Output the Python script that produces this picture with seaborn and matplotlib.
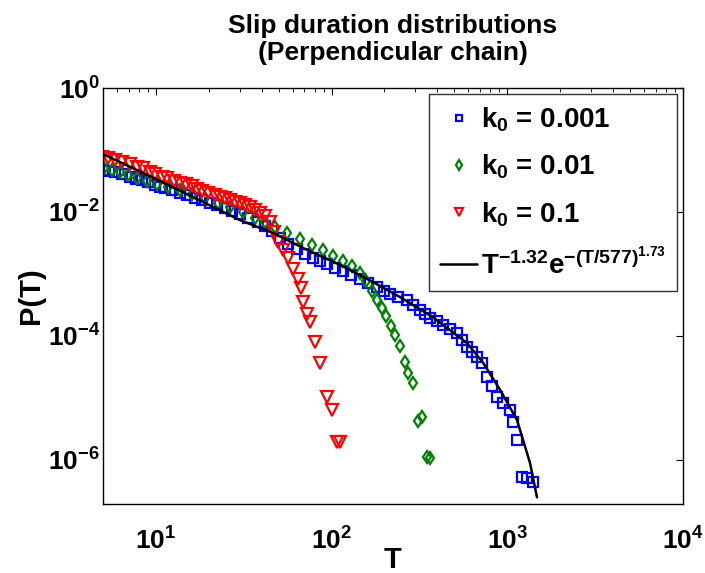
import numpy as np
import pandas as pd
import matplotlib
matplotlib.use("Agg")
import matplotlib.pyplot as plt
import matplotlib.ticker as mticker
import seaborn as sns

# ---------------- data ----------------
T_k001 = [5.00, 5.41, 5.85, 6.41, 7.12, 7.71, 8.34, 9.02, 9.89, 10.5, 11.3, 12.4, 13.7, 15.0,
          16.7, 18.3, 20.3, 22.3, 24.7, 27.1, 30.1, 33.4, 38.1, 41.8, 45.8, 50.8, 56.5, 63.5,
          70.6, 78.3, 85.9, 94.2, 104.5, 116, 129, 145, 161, 181, 199, 215, 239, 269, 291,
          318, 340, 363, 398, 431, 472, 518, 553, 590, 630, 673, 718, 767, 819, 874, 946,
          1037, 1077, 1136, 1213, 1295, 1400]
P_k001 = [0.0476, 0.0458, 0.0442, 0.0410, 0.0367, 0.0340, 0.0328, 0.0305, 0.0272, 0.0253,
          0.0244, 0.0226, 0.0202, 0.0188, 0.0168, 0.0156, 0.0140, 0.0130, 0.0116, 0.0104,
          0.0093, 0.0080, 0.0069, 0.00594, 0.00494, 0.00381, 0.00305, 0.00253, 0.00210,
          0.00181, 0.00162, 0.00145, 0.00125, 0.00112, 9.6e-4, 8.3e-4, 7.2e-4, 6.2e-4,
          5.3e-4, 4.75e-4, 4.25e-4, 3.8e-4, 3.16e-4, 2.62e-4, 2.26e-4, 1.95e-4, 1.75e-4,
          1.5e-4, 1.3e-4, 1.12e-4, 8.6e-5, 6.65e-5, 5.5e-5, 4.6e-5, 3.7e-5, 2.18e-5,
          1.56e-5, 1.04e-5, 8.3e-6, 6.4e-6, 4.1e-6, 2.1e-6, 5.3e-7, 5.1e-7, 4.4e-7]

T_k01 = [5.07, 5.63, 6.25, 6.94, 7.81, 8.90, 10.1, 11.7, 13.7, 16.1, 19.0, 22.6, 26.4, 31.3,
         36.6, 41.8, 47.6, 55.7, 66.1, 77.3, 89.3, 102, 116, 131, 145, 157, 170, 181, 194,
         204, 218, 230, 245, 262, 272, 291, 310, 327, 349, 363]
P_k01 = [0.0513, 0.0476, 0.0441, 0.0395, 0.0353, 0.0316, 0.0283, 0.0253, 0.0226, 0.0195,
         0.0168, 0.0140, 0.0120, 0.0100, 0.0080, 0.0069, 0.00573, 0.00458, 0.00367, 0.00294,
         0.00244, 0.00195, 0.00162, 0.00135, 0.00104, 7.7e-4, 5.3e-4, 3.8e-4, 2.83e-4,
         2.1e-4, 1.45e-4, 1.04e-4, 6.9e-5, 3.8e-5, 2.53e-5, 1.75e-5, 4.25e-6, 4.9e-6,
         1.12e-6, 1.08e-6]

T_k1 = [4.93, 5.34, 5.85, 6.41, 7.12, 7.81, 8.45, 9.25, 9.89, 10.8, 11.6, 12.7, 13.7, 14.8,
        16.1, 17.1, 18.3, 19.8, 21.7, 23.2, 24.7, 26.4, 28.2, 30.1, 32.1, 34.3, 36.6, 39.2,
        41.8, 44.6, 47.0, 49.5, 52.8, 56.5, 60.3, 64.4, 67.0, 68.7, 72.5, 75.4, 80.4, 85.9,
        94.2, 100.5, 107, 112]
P_k1 = [0.077, 0.0743, 0.069, 0.064, 0.0594, 0.0532, 0.0513, 0.0442, 0.041, 0.0367, 0.0353,
        0.0316, 0.0294, 0.0283, 0.0263, 0.0235, 0.0218, 0.0202, 0.0188, 0.0175, 0.0168,
        0.0156, 0.0145, 0.0140, 0.0130, 0.0120, 0.0108, 0.0096, 0.0086, 0.0069, 0.00475,
        0.00328, 0.00244, 0.00181, 0.0012, 8.3e-4, 5.9e-4, 3.5e-4, 2.26e-4, 1.68e-4, 8.0e-5,
        3.7e-5, 1.04e-5, 6.4e-6, 1.95e-6, 1.95e-6]

# fitted curve T^-1.32 e^-(T/577)^1.73
T_fit = [5.0, 10.0, 30.1, 46.5, 72.5, 112, 172, 245, 378, 590, 728, 910, 1136, 1346, 1476]
P_fit = [0.086, 0.034, 0.0074, 0.00458, 0.00244, 0.0014, 7.4e-4, 4.25e-4, 2.0e-4, 7.7e-5,
         3.7e-5, 1.35e-5, 4.4e-6, 9e-7, 2.5e-7]

labels = [r"$\mathdefault{k_0}$ = 0.001", r"$\mathdefault{k_0}$ = 0.01", r"$\mathdefault{k_0}$ = 0.1"]
fit_label = r"$\mathdefault{T^{-1.32}e^{-(T/577)^{1.73}}}$"
title = "Slip duration distributions\n(Perpendicular chain)"
xlabel = "T"
ylabel = "P(T)"

# ---------------- style ----------------
sns.set_theme(style="white")
plt.rcParams["font.family"] = ["Liberation Sans", "DejaVu Sans"]
plt.rcParams["font.weight"] = "bold"
plt.rcParams["axes.titleweight"] = "bold"
plt.rcParams["axes.labelweight"] = "bold"
plt.rcParams["text.color"] = "black"
plt.rcParams["axes.labelcolor"] = "black"
plt.rcParams["axes.titlecolor"] = "black"
plt.rcParams["mathtext.fontset"] = "custom"
plt.rcParams["mathtext.rm"] = "Liberation Sans:bold"
plt.rcParams["mathtext.it"] = "Liberation Sans:bold"
plt.rcParams["mathtext.bf"] = "Liberation Sans:bold"

fig = plt.figure(figsize=(7.05, 5.73), dpi=100)
ax = fig.add_axes([103 / 705, 1 - 504 / 573, 580 / 705, 416 / 573])

df1 = pd.DataFrame({"T": T_k001, "P": P_k001})
df2 = pd.DataFrame({"T": T_k01, "P": P_k01})
df3 = pd.DataFrame({"T": T_k1, "P": P_k1})
dff = pd.DataFrame({"T": T_fit, "P": P_fit})

sns.lineplot(data=df1, x="T", y="P", ax=ax, estimator=None, sort=False, linestyle="",
             marker="s", markersize=6.5, mfc="none", mec="#0000ff", mew=1.6, color="#0000ff",
             label=labels[0])
sns.lineplot(data=df2, x="T", y="P", ax=ax, estimator=None, sort=False, linestyle="",
             marker="d", markersize=6.5, mfc="none", mec="#008000", mew=1.6, color="#008000",
             label=labels[1])
sns.lineplot(data=df3, x="T", y="P", ax=ax, estimator=None, sort=False, linestyle="",
             marker="v", markersize=8, mfc="none", mec="#ff0000", mew=1.6, color="#ff0000",
             label=labels[2])
sns.lineplot(data=dff, x="T", y="P", ax=ax, estimator=None, sort=False, color="black",
             linewidth=1.8, label=fit_label)

ax.set_xscale("log")
ax.set_yscale("log")
ax.set_xlim(5, 1e4)
ax.set_ylim(1.95e-7, 1)

ax.xaxis.set_major_locator(mticker.LogLocator(base=10, numticks=10))
ax.xaxis.set_minor_locator(mticker.LogLocator(base=10, subs=np.arange(2, 10), numticks=20))
ax.xaxis.set_minor_formatter(mticker.NullFormatter())
ax.yaxis.set_major_locator(mticker.FixedLocator([1e-6, 1e-4, 1e-2, 1e0]))
ax.yaxis.set_minor_locator(mticker.NullLocator())
ax.yaxis.set_major_formatter(mticker.LogFormatterSciNotation())

ax.tick_params(axis="both", which="both", direction="in", top=True, right=True,
               colors="black", labelsize=19)
ax.tick_params(axis="both", which="major", length=5, width=0.8)
ax.tick_params(axis="both", which="minor", length=3, width=0.6)
ax.tick_params(axis="x", which="major", pad=17)
ax.tick_params(axis="y", which="major", pad=2)

for sp in ax.spines.values():
    sp.set_color("black")
    sp.set_linewidth(1.0)

ax.set_xlabel(xlabel, fontsize=21, labelpad=-6)
ax.set_ylabel(ylabel, fontsize=21, labelpad=2)
ax.set_title(title, fontsize=19, pad=20, linespacing=1.15, color="black")

leg = ax.legend(loc="upper right", fontsize=20, frameon=True, fancybox=False,
                edgecolor="black", borderaxespad=0.22, handlelength=1.36, handletextpad=0.12,
                labelspacing=0.68, markerscale=0.75, borderpad=0.4)
leg.get_frame().set_linewidth(1.0)

fig.savefig("out.png", dpi=100, facecolor="white")
